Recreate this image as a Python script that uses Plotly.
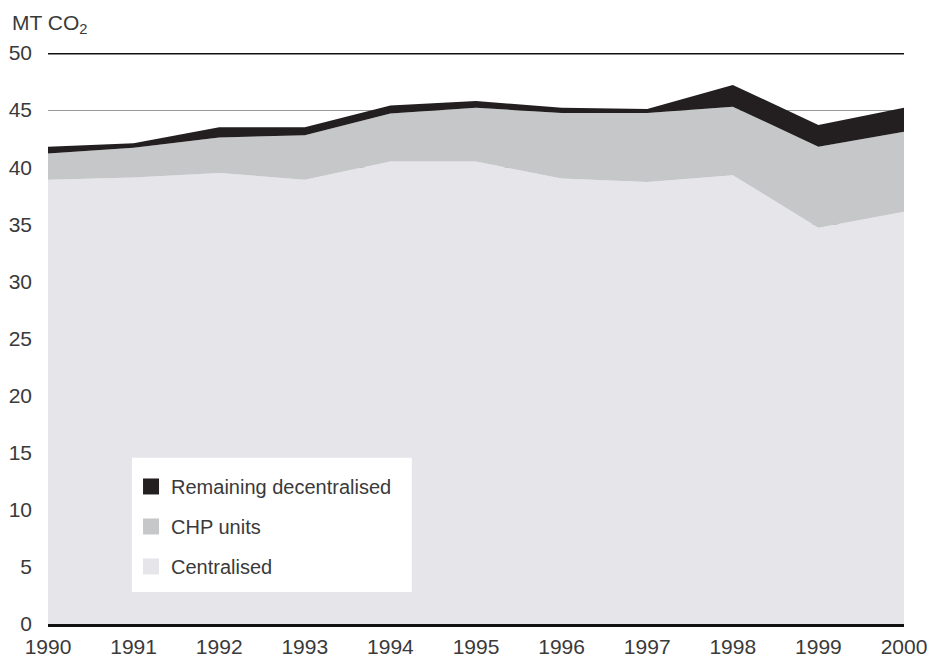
import plotly.graph_objects as go

years = [1990, 1991, 1992, 1993, 1994, 1995, 1996, 1997, 1998, 1999, 2000]
centralised = [38.9, 39.1, 39.5, 38.9, 40.5, 40.5, 39.0, 38.7, 39.3, 34.7, 36.1]
chp_units = [2.3, 2.6, 3.1, 3.9, 4.2, 4.7, 5.75, 6.05, 6.0, 7.1, 7.0]
remaining = [0.6, 0.4, 0.9, 0.7, 0.7, 0.6, 0.45, 0.35, 1.9, 1.9, 2.1]

y_ticks = [0, 5, 10, 15, 20, 25, 30, 35, 40, 45, 50]

FONT = "Liberation Sans, Arial, sans-serif"
TEXT_COLOR = "#3a3a3a"

series = [
    ("Centralised", centralised, "#e6e6ea"),
    ("CHP units", chp_units, "#c5c7c9"),
    ("Remaining decentralised", remaining, "#231f20"),
]

fig = go.Figure()
for name, values, color in series:
    fig.add_trace(
        go.Scatter(
            x=years,
            y=values,
            name=name,
            mode="lines",
            stackgroup="one",
            line=dict(width=0, color=color),
            fillcolor=color,
            showlegend=False,
        )
    )

# square legend swatches, top entry = top of the stack
for rank, (name, values, color) in enumerate(reversed(series)):
    fig.add_trace(
        go.Scatter(
            x=[None],
            y=[None],
            name=name,
            mode="markers",
            marker=dict(symbol="square", size=16, color=color),
            legendgroup=name,
            legendrank=rank + 1,
        )
    )

# heavy rule at the top of the plot
fig.add_shape(
    type="line", xref="paper", yref="y", x0=0, x1=1, y0=50, y1=50,
    line=dict(color="#111111", width=3), layer="above",
)

# white box behind the legend
fig.add_shape(
    type="rect", xref="paper", yref="paper", x0=0.098, x1=0.425, y0=0.056, y1=0.291,
    line=dict(width=0), fillcolor="white", layer="above",
)

fig.add_annotation(
    text="MT CO<sub>2</sub>", xref="paper", yref="paper", x=-0.044, y=1.0,
    yshift=44, xanchor="left", yanchor="top", showarrow=False,
    font=dict(family=FONT, size=21, color=TEXT_COLOR),
)

fig.update_layout(
    width=929,
    height=659,
    margin=dict(l=48, r=25, t=53, b=35),
    paper_bgcolor="white",
    plot_bgcolor="white",
    font=dict(family=FONT, size=21, color=TEXT_COLOR),
    showlegend=True,
    legend=dict(
        x=0.097,
        y=0.275,
        xanchor="left",
        yanchor="top",
        bgcolor="rgba(0,0,0,0)",
        traceorder="grouped",
        tracegroupgap=11,
        itemwidth=30,
        font=dict(family=FONT, size=20, color=TEXT_COLOR),
    ),
    xaxis=dict(
        range=[1990, 2000],
        tickvals=years,
        showgrid=False,
        showline=True,
        linecolor="#111111",
        linewidth=3,
        ticks="",
        zeroline=False,
        automargin=False,
        ticklabelstandoff=2,
    ),
    yaxis=dict(
        range=[0, 50],
        tickvals=y_ticks,
        showgrid=True,
        gridcolor="#9a9a9a",
        gridwidth=1,
        zeroline=False,
        ticks="",
        automargin=False,
        ticklabelstandoff=15,
    ),
)

# the page's default body margin would push the figure out of the window
fig.write_html(
    "out.html",
    config={"displayModeBar": False},
    post_script="document.body.style.margin = '0';",
)
